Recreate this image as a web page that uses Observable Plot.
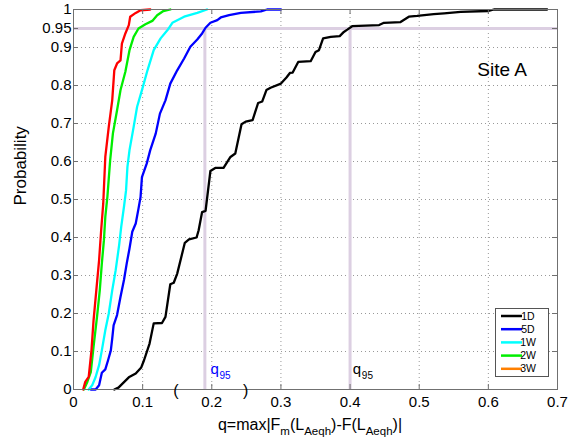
<!DOCTYPE html>
<html><head><meta charset="utf-8">
<script src="https://cdn.jsdelivr.net/npm/d3@7"></script>
<script src="https://cdn.jsdelivr.net/npm/@observablehq/plot@0.6"></script>
<style>body{margin:0;background:#fff;} svg{font-family:"Liberation Sans",Arial,Helvetica,sans-serif;}</style>
</head><body><div id="chart"></div>
<script>
const series = ["1D","5D","1W","2W","3W"];
const lineColors = ["#000000","#0000ff","#00ffff","#00ee00","#ff0000"];
const legendColors = ["#000000","#0000ff","#00ffff","#00ee00","#ff7f00"];

const x1D = [0.059,0.065,0.080,0.090,0.098,0.102,0.110,0.116,0.128,0.133,0.140,0.145,0.150,0.161,0.167,0.178,0.181,0.186,0.191,0.198,0.205,0.217,0.227,0.234,0.243,0.249,0.259,0.267,0.273,0.279,0.285,0.300,0.308,0.313,0.317,0.325,0.343,0.350,0.355,0.361,0.372,0.385,0.391,0.396,0.403,0.442,0.449,0.473,0.485,0.497,0.521,0.536,0.560,0.599,0.608,0.685];
const y1D = [0,0.005,0.032,0.042,0.058,0.077,0.121,0.174,0.175,0.191,0.277,0.281,0.305,0.386,0.395,0.400,0.419,0.467,0.470,0.575,0.583,0.583,0.612,0.621,0.698,0.705,0.709,0.754,0.758,0.788,0.794,0.805,0.821,0.833,0.834,0.862,0.864,0.888,0.893,0.924,0.928,0.930,0.941,0.947,0.956,0.959,0.965,0.967,0.981,0.983,0.988,0.990,0.994,0.996,1.0,1.0];

const x5D = [0.025,0.032,0.037,0.041,0.046,0.050,0.054,0.056,0.058,0.063,0.068,0.073,0.077,0.081,0.085,0.090,0.094,0.097,0.099,0.106,0.111,0.119,0.125,0.133,0.140,0.150,0.160,0.169,0.179,0.186,0.191,0.198,0.208,0.213,0.225,0.242,0.271,0.280,0.300];
const y5D = [0,0,0.011,0.044,0.053,0.077,0.103,0.134,0.169,0.196,0.244,0.288,0.332,0.371,0.415,0.437,0.476,0.507,0.559,0.595,0.630,0.674,0.726,0.761,0.805,0.840,0.871,0.902,0.921,0.937,0.952,0.965,0.972,0.979,0.985,0.991,0.995,1.0,1.0];

const x1W = [0.022,0.027,0.032,0.037,0.041,0.046,0.051,0.056,0.061,0.066,0.069,0.073,0.076,0.078,0.081,0.087,0.092,0.099,0.107,0.116,0.126,0.136,0.143,0.160,0.179,0.193];
const y1W = [0,0.011,0.033,0.064,0.103,0.156,0.200,0.261,0.314,0.380,0.428,0.481,0.524,0.586,0.630,0.691,0.744,0.788,0.840,0.893,0.924,0.946,0.965,0.981,0.991,1.0];

const x2W = [0.015,0.020,0.025,0.029,0.034,0.038,0.041,0.044,0.046,0.049,0.053,0.057,0.063,0.068,0.075,0.081,0.087,0.094,0.104,0.114,0.121,0.130,0.140];
const y2W = [0,0.020,0.046,0.112,0.191,0.261,0.332,0.393,0.454,0.507,0.603,0.674,0.735,0.788,0.836,0.893,0.928,0.950,0.961,0.970,0.985,0.996,1.0];

const x3W = [0.014,0.017,0.022,0.026,0.029,0.033,0.037,0.040,0.043,0.046,0.051,0.056,0.059,0.063,0.068,0.070,0.075,0.080,0.082,0.090,0.097,0.111];
const y3W = [0,0.020,0.033,0.103,0.182,0.261,0.340,0.419,0.489,0.612,0.691,0.761,0.840,0.858,0.866,0.910,0.937,0.959,0.981,0.991,0.998,1.0];

const xTicks = [0,0.1,0.2,0.3,0.4,0.5,0.6,0.7];
const yTicks = [0,0.1,0.2,0.3,0.4,0.5,0.6,0.7,0.8,0.9,0.95,1];
const xGrid = [0.1,0.2,0.3,0.4,0.5,0.6];
const yGrid = [0.1,0.2,0.3,0.4,0.5,0.6,0.7,0.8,0.9];
const pLevel = 0.95;
const q95Values = [0.19, 0.4];
const q95Colors = ["#0000ff", "#000000"];
const q95LabelX = [0.198, 0.404];
const q95LabelY = [0.04, 0.04];
const parenText = ["(", ")"];
const parenX = [0.148, 0.249];
const parenY = [-0.016, -0.016];
const siteLabel = ["Site A"];
const siteX = [0.584];
const siteY = [0.824];

const xs = [x1D,x5D,x1W,x2W,x3W], ys = [y1D,y5D,y1W,y2W,y3W];
const rows = series.flatMap((s,i) => xs[i].map((x,j) => ({series: s, x, y: ys[i][j]})));
const qRows = q95Values.map((v,i) => ({v, c: q95Colors[i], lx: q95LabelX[i], ly: q95LabelY[i]}));
const lav = "#dccfe2";
const fmt = d => String(+d.toFixed(2));

const plot = Plot.plot({
  width: 575, height: 440,
  marginLeft: 73, marginRight: 18, marginTop: 9, marginBottom: 51,
  style: {fontFamily: '"Liberation Sans", Arial, sans-serif', background: "#fff"},
  x: {domain: [0, 0.7], label: null},
  y: {domain: [0, 1], label: null},
  color: {domain: series, range: lineColors},
  marks: [
    Plot.gridX(xGrid, {stroke: "#999", strokeOpacity: 1, strokeDasharray: "1,3"}),
    Plot.gridY(yGrid, {stroke: "#999", strokeOpacity: 1, strokeDasharray: "1,3"}),
    Plot.ruleY([pLevel], {stroke: lav, strokeWidth: 3}),
    Plot.ruleX(qRows, {x: "v", y1: 0, y2: pLevel, stroke: lav, strokeWidth: 3}),
    Plot.line(rows, {x: "x", y: "y", z: "series", stroke: "series", strokeWidth: 2.3}),
    Plot.frame({stroke: "#707070"}),
    Plot.tickX(xTicks, {x: d => d, insetTop: 375, stroke: "#707070"}),
    Plot.tickX(xTicks, {x: d => d, insetBottom: 375, stroke: "#707070"}),
    Plot.tickY(yTicks, {y: d => d, insetRight: 479, stroke: "#707070"}),
    Plot.tickY(yTicks, {y: d => d, insetLeft: 479, stroke: "#707070"}),
    Plot.axisX(xTicks, {tickSize: 0, tickPadding: 7, fontSize: 15, label: null, tickFormat: fmt}),
    Plot.axisY(yTicks, {tickSize: 0, tickPadding: 2, fontSize: 15, label: null, tickFormat: fmt}),
    Plot.text(["Probability"], {frameAnchor: "left", rotate: -90, dx: -53, dy: 6, fontSize: 17}),
    Plot.text(qRows, {x: "lx", y: "ly", text: () => "q", fill: "c", fontSize: 15, textAnchor: "start", lineAnchor: "bottom"}),
    Plot.text(qRows, {x: "lx", y: "ly", text: () => "95", fill: "c", fontSize: 10, textAnchor: "start", lineAnchor: "bottom", dx: 9, dy: 5}),
    Plot.text(parenText, {x: (d,i) => parenX[i], y: (d,i) => parenY[i], text: d => d, fontSize: 16, lineAnchor: "bottom"}),
    Plot.text(siteLabel, {x: (d,i) => siteX[i], y: (d,i) => siteY[i], text: d => d, fontSize: 19, textAnchor: "start", lineAnchor: "bottom"})
  ]
});
document.getElementById("chart").append(plot);

const svg = d3.select(plot);
// x-axis label with subscripts
const xl = svg.append("text").attr("x", 310).attr("y", 430).attr("text-anchor", "middle")
  .attr("font-size", 16).attr("fill", "#000");
const parts = [["q=max|F", 0], ["m", 1], ["(L", 0], ["Aeqh", 1], [")-F(L", 0], ["Aeqh", 1], [")|", 0]];
let prevSub = 0;
parts.forEach(([t, sub]) => {
  const dy = sub - prevSub;
  xl.append("tspan").attr("font-size", sub ? 11.5 : 16).attr("dy", dy ? (dy > 0 ? 4.5 : -4.5) : 0).text(t);
  prevSub = sub;
});
// legend
const lg = svg.append("g");
lg.append("rect").attr("x", 495.5).attr("y", 308.5).attr("width", 53).attr("height", 68)
  .attr("fill", "#fff").attr("stroke", "#555");
series.forEach((s, i) => {
  const yy = 316 + i * 13.2;
  lg.append("line").attr("x1", 501).attr("x2", 522).attr("y1", yy).attr("y2", yy)
    .attr("stroke", legendColors[i]).attr("stroke-width", 2.5);
  lg.append("text").attr("x", 528).attr("y", yy).attr("dy", "0.35em").attr("font-size", 10.5).text(s);
});
</script>
</body></html>
